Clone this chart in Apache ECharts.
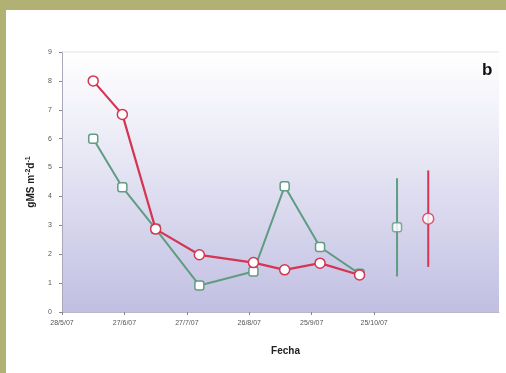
<!DOCTYPE html>
<html>
<head>
<meta charset="utf-8">
<script src="https://cdn.jsdelivr.net/npm/echarts@6/dist/echarts.min.js"></script>
<style>
  html, body { margin: 0; padding: 0; background: #ffffff; }
  #chart { width: 506px; height: 373px; }
</style>
</head>
<body>
<div id="chart"></div>
<script>
// Sampling dates (axis runs in days from the origin date)
const originDate = '2007-05-28';
const sampleDates = ['2007-06-12', '2007-06-26', '2007-07-12', '2007-08-02',
                     '2007-08-28', '2007-09-12', '2007-09-29', '2007-10-18'];
const tickDays = [0, 30, 60, 90, 120, 150];

// Production values, gMS m-2 d-1
const greenValues = [6.0, 4.32, 2.88, 0.92, 1.40, 4.35, 2.25, 1.32];
const redValues   = [8.0, 6.84, 2.87, 1.98, 1.71, 1.46, 1.69, 1.28];

// Overall mean and standard deviation for each series
const summaryDates = ['2007-11-05', '2007-11-20'];
const summaryMeans = [2.93, 3.23];
const summarySd    = [1.70, 1.67];

const yTicks = [0, 1, 2, 3, 4, 5, 6, 7, 8, 9];

const DAY = 86400000;
const t0 = Date.parse(originDate);
const toDay = s => Math.round((Date.parse(s) - t0) / DAY);
const fmtDay = v => {
  const d = new Date(t0 + v * DAY);
  return d.getUTCDate() + '/' + (d.getUTCMonth() + 1) + '/' + String(d.getUTCFullYear()).slice(2);
};

const xs = sampleDates.map(toDay);
const greenData = xs.map((x, i) => [x, greenValues[i]]);
const redData = xs.map((x, i) => [x, redValues[i]]);
const sx = summaryDates.map(toDay);

const GREEN = '#5f9c82';
const RED = '#d43552';

function bar(i, color) {
  return {
    type: 'line',
    data: [[sx[i], summaryMeans[i] - summarySd[i]], [sx[i], summaryMeans[i] + summarySd[i]]],
    symbol: 'none',
    lineStyle: { color: color, width: 2 },
    z: 2
  };
}

const chart = echarts.init(document.getElementById('chart'));
chart.setOption({
  animation: false,
  backgroundColor: '#ffffff',
  grid: {
    left: 62, right: 7, top: 52, bottom: 61,
    show: true,
    borderWidth: 0,
    backgroundColor: new echarts.graphic.LinearGradient(0, 0, 0, 1, [
      { offset: 0, color: '#ffffff' },
      { offset: 0.3, color: '#eeeef8' },
      { offset: 1, color: '#c1bfe2' }
    ])
  },
  xAxis: {
    type: 'value',
    min: 0, max: 210, interval: 30,
    name: 'Fecha',
    nameLocation: 'middle',
    nameGap: 34,
    nameTextStyle: { fontFamily: 'Liberation Sans', fontWeight: 'bold', fontSize: 10, color: '#222', padding: [0, 0, 0, 10] },
    axisLine: { lineStyle: { color: '#b8b8c8', width: 1 } },
    axisTick: { show: true, length: 3, inside: false, customValues: tickDays, lineStyle: { color: '#888' } },
    axisLabel: {
      customValues: tickDays,
      formatter: v => fmtDay(v),
      fontFamily: 'Liberation Sans', fontSize: 7, color: '#555', margin: 8
    },
    splitLine: { show: false }
  },
  yAxis: {
    type: 'value',
    min: 0, max: 9, interval: 1,
    name: 'gMS m{s|-2}d{s|-1}',
    nameLocation: 'middle',
    nameGap: 24,
    nameRotate: 90,
    nameTextStyle: {
      fontFamily: 'Liberation Sans', fontWeight: 'bold', fontSize: 10, color: '#222',
      rich: { s: { fontSize: 7, fontWeight: 'bold', color: '#222', verticalAlign: 'top', padding: [0, 0, 6, 0] } }
    },
    axisLine: { show: true, lineStyle: { color: '#a8a8b8' } },
    axisTick: { show: true, length: 3, lineStyle: { color: '#888' } },
    axisLabel: {
      formatter: v => yTicks.includes(v) ? String(v) : '',
      fontFamily: 'Liberation Sans', fontSize: 7, color: '#555', margin: 10
    },
    splitLine: { show: false }
  },
  graphic: [
    { type: 'rect', shape: { x: 0, y: 0, width: 506, height: 10 }, style: { fill: '#b1b174' }, z: 100 },
    { type: 'rect', shape: { x: 0, y: 0, width: 6, height: 373 }, style: { fill: '#b1b174' }, z: 100 },
    { type: 'line', shape: { x1: 62, y1: 52, x2: 499, y2: 52 }, style: { stroke: '#e2e2ea', lineWidth: 1 }, z: 1 },
    { type: 'text', left: 482, top: 62, style: { text: 'b', fontFamily: 'Liberation Sans', fontWeight: 'bold', fontSize: 17, fill: '#111' } }
  ],
  series: [
    {
      type: 'line',
      data: greenData,
      symbol: 'roundRect',
      symbolSize: 9,
      lineStyle: { color: GREEN, width: 2 },
      itemStyle: { color: '#ffffff', borderColor: GREEN, borderWidth: 1.5 },
      z: 3
    },
    {
      type: 'line',
      data: redData,
      symbol: 'circle',
      symbolSize: 10,
      lineStyle: { color: RED, width: 2.2 },
      itemStyle: { color: '#ffffff', borderColor: RED, borderWidth: 1.5 },
      z: 4
    },
    bar(0, GREEN),
    bar(1, RED),
    {
      type: 'scatter',
      data: [[sx[0], summaryMeans[0]]],
      symbol: 'roundRect',
      symbolSize: 9,
      itemStyle: { color: '#ffffff', borderColor: GREEN, borderWidth: 1.5 },
      z: 5
    },
    {
      type: 'scatter',
      data: [[sx[1], summaryMeans[1]]],
      symbol: 'circle',
      symbolSize: 11,
      itemStyle: { color: '#ffffff', borderColor: RED, borderWidth: 1.5 },
      z: 5
    }
  ]
});
</script>
</body>
</html>
